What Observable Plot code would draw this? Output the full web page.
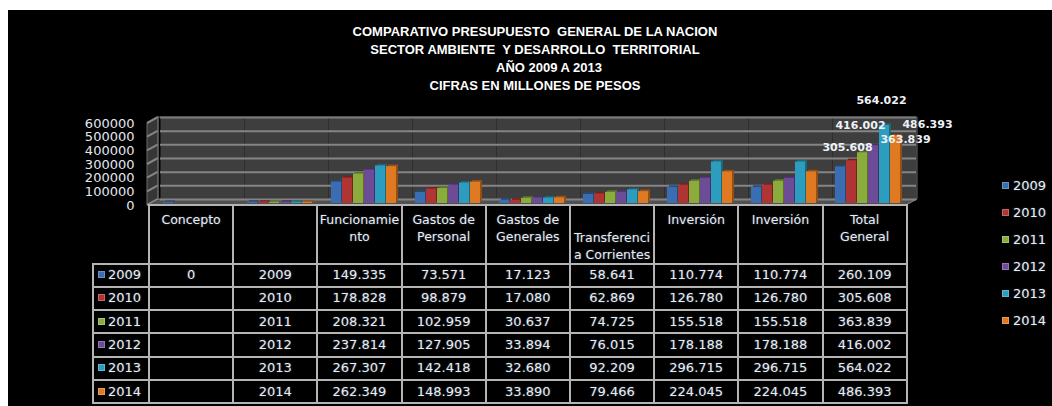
<!DOCTYPE html>
<html>
<head>
<meta charset="utf-8">
<script src="https://cdn.jsdelivr.net/npm/d3@7"></script>
<script src="https://cdn.jsdelivr.net/npm/@observablehq/plot@0.6"></script>
<style>
  html, body { margin: 0; padding: 0; background: #fff; width: 1052px; height: 406px; overflow: hidden; }
  #frame { position: absolute; left: 8px; top: 10px; width: 1044px; height: 396px; background: #000; }
  #chart { position: absolute; left: 0; top: 0; }
  .tline { position: absolute; left: 335px; width: 400px; text-align: center; font: bold 13px "Liberation Sans", Arial, sans-serif; color: #fff; white-space: nowrap; }
  #tbl { position: absolute; left: 92px; top: 204px; border-collapse: collapse; table-layout: fixed; font-family: "DejaVu Sans", sans-serif; color: #ececec; text-shadow: 0 0 2px rgba(110,150,210,0.55); }
  #tbl td, #tbl th { border: 2px solid #b4b4b4; padding: 0; text-align: center; font-weight: normal; }
  #tbl th { height: 10px; vertical-align: top; font-size: 12.5px; line-height: 17px; padding-top: 5px; }
  #tbl th div { width: 82px; margin: 0 auto; overflow-wrap: anywhere; }
  #tbl th.empty { border: none; }
  #tbl th.shift div { margin-top: 17.5px; }
  #tbl td { height: 23.3px; font-size: 13px; line-height: 18px; box-sizing: border-box; }
  #tbl td.leg { text-align: left; padding-left: 4px; }
  .sw { display: inline-block; width: 7px; height: 7px; margin-right: 3px; vertical-align: 1px; box-shadow: inset 0 0 0 1px rgba(255,255,255,0.25); }
  #legend { position: absolute; left: 1002px; top: 177px; font: 13px "DejaVu Sans", sans-serif; color: #ececec; text-shadow: 0 0 2px rgba(110,150,210,0.55); }
  #legend div { height: 27px; line-height: 18px; white-space: nowrap; }
</style>
</head>
<body>
<div id="frame"></div>
<div class="tline" style="top:24px">COMPARATIVO PRESUPUESTO&nbsp; GENERAL DE LA NACION</div>
<div class="tline" style="top:42px">SECTOR AMBIENTE&nbsp; Y DESARROLLO&nbsp; TERRITORIAL</div>
<div class="tline" style="top:60px;left:349px">AÑO 2009 A 2013</div>
<div class="tline" style="top:78px">CIFRAS EN MILLONES DE PESOS</div>
<div id="chart"></div>
<table id="tbl"></table>
<div id="legend"></div>
<script>
// ---- data ----
const categories = ["Concepto", "", "Funcionamiento", "Gastos de Personal", "Gastos de Generales", "Transferencia Corrientes", "Inversión", "Inversión", "Total General"];
const years = ["2009", "2010", "2011", "2012", "2013", "2014"];
const colors = ["#3b6db3", "#b13434", "#8aac3c", "#6c4b97", "#2d9dbf", "#e07a22"];
const concepto = [0, null, null, null, null, null];
const anio = [2009, 2010, 2011, 2012, 2013, 2014];
const funcionamiento = [149335, 178828, 208321, 237814, 267307, 262349];
const gastosPersonal = [73571, 98879, 102959, 127905, 142418, 148993];
const gastosGenerales = [17123, 17080, 30637, 33894, 32680, 33890];
const transferencias = [58641, 62869, 74725, 76015, 92209, 79466];
const inversion = [110774, 126780, 155518, 178188, 296715, 224045];
const inversion2 = [110774, 126780, 155518, 178188, 296715, 224045];
const totalGeneral = [260109, 305608, 363839, 416002, 564022, 486393];
const yTicks = [0, 100000, 200000, 300000, 400000, 500000, 600000];

const series = [concepto, anio, funcionamiento, gastosPersonal, gastosGenerales, transferencias, inversion, inversion2, totalGeneral];
const data = [];
series.forEach((vals, col) => vals.forEach((v, i) => data.push({col, year: years[i], value: v})));

const fmt = d3.formatLocale({decimal: ",", thousands: ".", grouping: [3], currency: ["$", ""]}).format(",d");
const cellText = (col, v) => v == null ? "" : (col <= 1 ? String(v) : fmt(v));

// ---- chart ----
const D = 4, DY = -2;        // bar depth offset (middle of 3D depth)
const WX = 11, WY = -6;      // back wall offset
const totals = data.filter(d => d.col === 8);
const lab = (year, dx, dy) => Plot.text(totals.filter(d => d.year === year), {
  fx: "col", x: "year", y: "value", text: d => fmt(d.value), dx, dy,
  fill: "#eef2f8", fontWeight: "bold", fontSize: 11, fontFamily: "DejaVu Sans"
});

const plot = Plot.plot({
  width: 1052, height: 215,
  marginLeft: 148, marginRight: 146, marginTop: 123, marginBottom: 10,
  style: {background: "transparent", color: "#e2e8f0", fontFamily: "DejaVu Sans", fontSize: "13px", overflow: "visible"},
  fx: {domain: d3.range(categories.length), padding: 0, axis: null},
  x: {domain: years, paddingInner: 0.1, paddingOuter: 0.65, axis: null},
  y: {domain: [0, 600000], ticks: yTicks, tickFormat: "d", tickSize: 0, tickPadding: 15, label: null},
  color: {domain: years, range: colors},
  marks: [
    Plot.frame({fill: "#3e3e3e", stroke: "none", dx: WX, dy: WY}),
    Plot.ruleY(yTicks, {stroke: "#858585", strokeWidth: 2, dx: WX, dy: WY}),
    Plot.barY(data, {fx: "col", x: "year", y1: 0, y2: "value", fill: "year", dx: D + 2, dy: DY - 1.5, insetTop: -1}),
    Plot.barY(data, {fx: "col", x: "year", y1: 0, y2: "value", fill: "#000", fillOpacity: 0.35, dx: D + 2, dy: DY - 1.5, insetTop: -1}),
    Plot.barY(data, {fx: "col", x: "year", y1: 0, y2: "value", fill: "year", dx: D, dy: DY, insetTop: -1}),
    lab("2010", 0, -16),
    lab("2011", 47, -16),
    lab("2012", -9, -23),
    lab("2013", 1, -28),
    lab("2014", 36, -15)
  ]
});
document.getElementById("chart").appendChild(plot);

// 3D side wall, floor and wall outline, drawn from the plot's own y scale
const ys = plot.scale("y");
const svg = d3.select(plot.tagName.toLowerCase() === "svg" ? plot : plot.querySelector("svg"));
const g = svg.insert("g", ":first-child");
const xl = 147, xr = 906;
const y0 = ys.apply(0), yTop = ys.apply(600000);
g.append("polygon").attr("points", [[xl, y0], [xl, yTop], [xl + WX, yTop + WY], [xl + WX, y0 + WY]].join(" ")).attr("fill", "#363636").attr("stroke", "#6a6a6a");
yTicks.forEach(t => g.append("line").attr("x1", xl).attr("y1", ys.apply(t)).attr("x2", xl + WX).attr("y2", ys.apply(t) + WY).attr("stroke", "#858585").attr("stroke-width", 2));
const floor = svg.append("polygon").attr("points", [[xl, y0], [xr, y0], [xr + WX, y0 + WY], [xl + WX, y0 + WY]].join(" ")).attr("fill", "#505050").attr("stroke", "#8a8a8a");
floor.lower(); g.lower();
svg.append("polyline").attr("points", [[xl + WX, y0 + WY], [xl + WX, yTop + WY], [xr + WX, yTop + WY], [xr + WX, y0 + WY]].join(" ")).attr("fill", "none").attr("stroke", "#6a6a6a");

// ---- data table ----
const tbl = d3.select("#tbl");
const cg = tbl.append("colgroup");
cg.append("col").style("width", "56px");
categories.forEach(() => cg.append("col").style("width", "84.2px"));
const hr = tbl.append("tr");
hr.append("th").attr("class", "empty");
categories.forEach((c, i) => hr.append("th").attr("class", i === 5 ? "shift" : null).append("div").text(c));
years.forEach((yr, i) => {
  const tr = tbl.append("tr");
  const lc = tr.append("td").attr("class", "leg");
  lc.append("span").attr("class", "sw").style("background", colors[i]);
  lc.append("span").text(yr);
  series.forEach((vals, col) => tr.append("td").text(cellText(col, vals[i])));
});

// ---- legend ----
const lg = d3.select("#legend");
years.forEach((yr, i) => {
  const it = lg.append("div");
  it.append("span").attr("class", "sw").style("background", colors[i]).style("margin-right", "4px");
  it.append("span").text(yr);
});
</script>
</body>
</html>
